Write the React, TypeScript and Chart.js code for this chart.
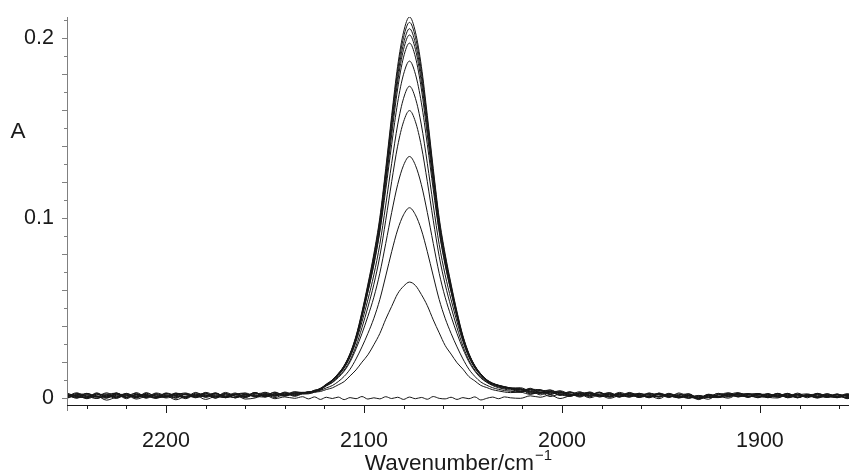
import React, { useEffect, useRef } from 'react';
import { Chart, registerables } from 'chart.js';

Chart.register(...registerables);

// Wavenumber grid (cm^-1), shared by all spectra
const WAVENUMBERS = [
  2250, 2245, 2240, 2235, 2230, 2225, 2220, 2215, 2210, 2205, 2200, 2195, 2190, 2185, 2180, 2175, 2170, 2165, 2160, 2155, 2150, 2145, 2140, 2135,
  2131, 2128, 2125, 2122, 2119, 2116, 2113, 2110, 2107, 2104, 2101, 2098, 2095, 2092, 2089, 2086, 2083, 2080, 2077, 2074, 2071, 2068, 2065, 2062, 2059, 2056, 2053, 2050, 2047, 2044, 2041, 2038, 2035, 2032, 2029, 2026,
  2021, 2016, 2011, 2006, 2001, 1996, 1991, 1986, 1981, 1976, 1971, 1966, 1961, 1956, 1951, 1946, 1941, 1936, 1931, 1926, 1921, 1916, 1911, 1906, 1901, 1896, 1891, 1886, 1881, 1876, 1871, 1866, 1861, 1856, 1851,
];

// Absorbance spectra (A)
const S1 = [
  .0019, .0003, .0025, .0009, -.0001, .0021, .0016, .0002, .0030, .0008, .0018, -.0002, .0024, .0015, .0007, .0029, .0003, .0022, .0014, .0029, .0008, .0023, .0015, .0033,
  .0031, .0030, .0042, .0050, .0075, .0100, .0134, .0180, .0248, .0345, .0479, .0633, .0801, .1001, .1275, .1570, .1843, .2033, .2117, .2033, .1843, .1570, .1275, .1001, .0801, .0633, .0479, .0345, .0248, .0180, .0134, .0100, .0081, .0071, .0063, .0056,
  .0053, .0034, .0047, .0021, .0032, .0009, .0027, .0030, .0011, .0020, .0005, .0031, .0012, .0022, .0005, .0022, .0012, -.0002, .0014, .0003, .0018, .0028, .0010, .0018, .0001, .0021, .0010, .0024, .0005, .0017, .0002, .0021, .0011, .0018, .0006,
];
const S2 = [
  .0005, .0025, .0011, -.0003, .0019, .0027, .0004, .0018, .0002, .0024, .0010, .0022, 0, .0027, .0017, .0005, .0031, .0010, .0004, .0021, .0028, .0011, .0027, .0021,
  .0027, .0035, .0037, .0051, .0072, .0101, .0131, .0178, .0244, .0340, .0473, .0624, .0790, .0987, .1257, .1548, .1817, .2004, .2087, .2004, .1817, .1548, .1257, .0987, .0790, .0624, .0473, .0340, .0244, .0178, .0132, .0097, .0080, .0070, .0062, .0056,
  .0035, .0054, .0031, .0037, .0016, .0031, .0023, .0014, .0031, .0004, .0021, .0015, .0026, .0008, .0021, .0002, .0028, .0006, -.0002, .0017, .0004, .0018, .0030, .0010, .0019, .0005, .0022, .0012, .0019, .0001, .0024, .0009, .0005, .0024, .0010,
];
const S3 = [
  .0027, .0009, .0001, .0021, .0015, -.0003, .0024, .0008, .0020, .0004, .0028, .0012, .0006, .0031, .0003, .0019, .0011, .0028, .0002, .0023, .0012, .0031, .0011, .0027,
  .0030, .0031, .0040, .0047, .0074, .0097, .0131, .0175, .0241, .0334, .0465, .0614, .0777, .0971, .1236, .1522, .1787, .1970, .2052, .1970, .1787, .1522, .1236, .0971, .0777, .0614, .0465, .0334, .0241, .0175, .0130, .0099, .0079, .0069, .0061, .0055,
  .0049, .0028, .0029, .0045, .0026, .0033, .0009, .0024, .0015, .0030, .0009, .0023, .0002, .0026, .0017, .0008, .0022, 0, .0008, .0007, .0026, .0008, .0024, .0004, .0025, .0011, .0016, .0006, .0027, .0007, .0018, .0003, .0021, .0008, .0018,
];
const S4 = [
  .0011, .0021, -.0001, .0025, .0007, .0017, .0002, .0030, .0006, .0016, .0004, .0026, .0020, .0001, .0023, .0011, .0025, 0, .0020, .0009, .0032, .0017, .0029, .0013,
  .0026, .0034, .0036, .0050, .0070, .0097, .0127, .0172, .0237, .0329, .0457, .0604, .0764, .0954, .1215, .1496, .1756, .1937, .2017, .1937, .1756, .1496, .1215, .0954, .0764, .0604, .0457, .0329, .0237, .0172, .0129, .0095, .0078, .0068, .0060, .0054,
  .0039, .0048, .0045, .0019, .0034, .0019, .0035, .0010, .0021, .0024, .0005, .0025, .0012, .0008, .0027, .0012, .0004, .0016, 0, .0021, .0008, .0006, .0022, .0024, .0003, .0021, .0012, .0026, .0003, .0015, .0022, .0007, .0017, 0, .0020,
];
const S5 = [
  .0023, -.0001, .0017, .0007, .0029, .0005, .0012, .0026, -.0002, .0022, .0008, .0018, .0028, .0005, .0011, .0027, .0007, .0018, .0026, .0005, .0024, .0015, .0011, .0029,
  .0030, .0030, .0040, .0045, .0073, .0092, .0127, .0169, .0232, .0322, .0447, .0590, .0747, .0933, .1188, .1462, .1717, .1894, .1972, .1894, .1717, .1462, .1188, .0933, .0747, .0590, .0447, .0322, .0232, .0169, .0125, .0096, .0077, .0067, .0059, .0053,
  .0057, .0036, .0025, .0033, .0038, .0015, .0025, .0006, .0029, .0012, .0025, .0005, .0022, .0020, .0005, .0026, .0008, .0012, -.0004, .0019, .0010, .0022, .0006, .0024, .0013, .0007, .0026, .0008, .0017, .0023, .0006, .0015, .0001, .0018, .0008,
];
const S6 = [
  .0001, .0017, .0023, .0005, .0011, .0027, .0002, .0020, .0014, 0, .0026, .0008, .0018, .0005, .0031, .0013, .0003, .0024, .0010, .0027, .0014, .0033, .0013, .0025,
  .0031, .0032, .0043, .0053, .0078, .0099, .0136, .0179, .0245, .0338, .0457, .0591, .0739, .0922, .1158, .1409, .1640, .1799, .1872, .1799, .1640, .1409, .1158, .0922, .0739, .0591, .0457, .0338, .0245, .0179, .0134, .0102, .0083, .0070, .0060, .0055,
  .0043, .0050, .0027, .0035, .0014, .0035, .0015, .0028, .0015, .0008, .0031, .0015, .0008, .0028, .0009, .0018, .0002, .0020, .0002, .0015, .0006, .0028, .0014, .0006, .0021, .0013, .0024, .0002, .0017, .0009, .0022, .0003, .0019, .0014, .0004,
];
const S7 = [
  .0017, .0007, .0001, .0029, .0003, .0015, .0022, 0, .0026, .0010, .0006, .0028, .0002, .0021, .0013, .0025, .0001, .0020, .0028, .0011, .0020, .0009, .0033, .0019,
  .0026, .0034, .0037, .0054, .0071, .0096, .0125, .0167, .0227, .0313, .0423, .0547, .0685, .0853, .1072, .1304, .1517, .1665, .1732, .1665, .1517, .1304, .1072, .0853, .0685, .0547, .0423, .0313, .0227, .0167, .0127, .0094, .0077, .0065, .0057, .0052,
  .0051, .0032, .0039, .0043, .0022, .0013, .0029, .0018, .0033, .0006, .0019, .0023, .0006, .0012, .0025, .0006, .0018, .0022, -.0006, .0011, .0008, .0024, .0006, .0020, .0025, .0009, .0010, .0022, .0001, .0019, .0012, .0023, .0005, .0016, .0002,
];
const S8 = [
  .0007, .0029, .0005, .0015, .0023, .0001, .0018, .0010, .0004, .0028, .0012, .0002, .0022, .0009, .0027, -.0001, .0021, .0018, .0008, .0031, .0006, .0025, .0019, .0035,
  .0028, .0029, .0037, .0046, .0068, .0087, .0118, .0155, .0210, .0289, .0391, .0505, .0632, .0787, .0988, .1202, .1399, .1535, .1597, .1535, .1399, .1202, .0988, .0787, .0632, .0505, .0391, .0289, .0210, .0155, .0116, .0089, .0072, .0061, .0053, .0049,
  .0033, .0044, .0041, .0023, .0040, .0021, .0011, .0034, .0013, .0022, .0009, .0027, .0018, .0004, .0021, .0010, .0006, .0024, -.0002, .0005, .0024, .0014, .0026, .0004, .0019, .0021, .0004, .0016, .0021, .0007, .0026, .0009, .0003, .0020, .0014,
];
const S9 = [
  .0024, .0010, .0018, -.0002, .0016, .0006, .0026, .0004, .0014, 0, .0022, .0016, -.0004, .0021, .0007, .0025, .0009, .0003, .0019, .0012, .0023, .0002, .0021, .0015,
  .0027, .0029, .0038, .0050, .0068, .0085, .0113, .0149, .0201, .0273, .0358, .0454, .0560, .0693, .0859, .1031, .1185, .1293, .1342, .1293, .1185, .1031, .0859, .0693, .0560, .0454, .0358, .0273, .0201, .0149, .0111, .0087, .0069, .0057, .0049, .0044,
  .0048, .0023, .0031, .0034, .0019, .0009, .0029, .0012, .0021, .0028, .0007, .0013, .0020, .0004, .0027, .0006, .0014, 0, .0014, .0003, .0002, .0020, .0018, .0006, .0025, .0001, .0018, .0008, .0021, .0009, .0006, .0023, .0003, .0014, .0006,
];
const S10 = [
  -.0002, .0018, .0008, .0022, 0, .0028, .0006, .0012, .0020, .0002, .0008, .0024, .0006, .0011, .0027, .0005, .0017, .0001, .0021, .0010, .0005, .0022, .0015, .0027,
  .0024, .0025, .0032, .0042, .0056, .0069, .0091, .0120, .0160, .0217, .0284, .0359, .0443, .0547, .0678, .0813, .0934, .1018, .1057, .1018, .0934, .0813, .0678, .0547, .0443, .0359, .0284, .0217, .0160, .0120, .0089, .0071, .0057, .0048, .0041, .0037,
  .0034, .0045, .0017, .0032, .0031, .0015, .0015, .0028, .0005, .0022, .0017, .0005, .0026, .0008, .0009, .0022, 0, .0012, .0008, -.0007, .0020, .0010, .0026, .0012, .0005, .0025, .0006, .0016, .0001, .0019, .0008, .0005, .0023, 0, .0016,
];
const S11 = [
  .0014, 0, .0026, .0006, .0008, .0022, -.0004, .0020, .0010, .0018, 0, .0014, .0022, .0005, .0017, -.0001, .0025, .0009, .0007, .0030, .0007, .0016, .0027, .0009,
  .0022, .0023, .0032, .0036, .0047, .0056, .0073, .0091, .0123, .0156, .0199, .0240, .0296, .0358, .0438, .0509, .0579, .0621, .0644, .0625, .0575, .0513, .0434, .0362, .0292, .0244, .0196, .0160, .0119, .0095, .0070, .0058, .0046, .0039, .0033, .0030,
  .0032, .0020, .0033, .0008, .0022, .0024, .0005, .0024, .0008, .0011, .0026, .0008, .0017, .0001, .0020, .0013, .0001, .0013, -.0003, .0018, .0003, .0017, .0009, .0023, .0008, .0004, .0025, .0001, .0012, .0016, -.0001, .0018, .0008, .0003, .0019,
];
const S12 = [
  0, .0014, -.0004, .0010, -.0012, .0006, .0016, -.0006, .0008, -.0002, .0012, -.0010, .0010, .0014, -.0008, .0008, .0002, .0018, -.0006, 0, .0016, -.0004, .0006, -.0002,
  .0007, -.0005, .0006, -.0008, .0004, -.0003, .0005, -.0009, .0002, -.0004, .0008, -.0006, .0001, -.0005, .0007, -.0003, .0004, -.0008, .0005, -.0004, .0003, -.0007, .0008, -.0002, -.0005, .0004, -.0008, .0002, -.0004, .0006, -.0011, -.0002, .0005, -.0004, .0006, .0001,
  -.0002, .0012, .0004, .0017, -.0003, .0012, .0020, .0001, .0015, -.0002, .0014, .0018, .0004, .0012, -.0004, .0020, .0005, .0012, -.0009, .0013, .0011, -.0001, .0019, .0007, .0018, .0004, 0, .0022, .0005, .0015, .0002, .0013, .0019, -.0004, .0012,
];

const SPECTRA = [S12, S11, S10, S9, S8, S7, S6, S5, S4, S3, S2, S1];

const X_TICK_LABELS = [2200, 2100, 2000, 1900];
const Y_TICK_LABELS = [0, 0.1, 0.2];
const X_TITLE = 'Wavenumber/cm';
const X_TITLE_SUP = '\u22121';
const Y_TITLE = 'A';

const X_MIN = 1855;
const X_MAX = 2250;
const Y_MIN = -0.0039;
const Y_MAX = 0.2117;

const FONT = '"Liberation Sans", Arial, Helvetica, sans-serif';
const TEXT_COLOR = '#1a1a1a';
const TICK_SIZE = 21.5;
const TITLE_SIZE = 22.5;

const axesPlugin = {
  id: 'axesDeco',
  afterDraw(chart: any) {
    const { ctx, chartArea: a, scales } = chart;
    const xs = scales.x;
    const ys = scales.y;
    ctx.save();
    ctx.lineWidth = 1;

    // y axis line and ticks
    ctx.strokeStyle = '#808080';
    ctx.beginPath();
    ctx.moveTo(a.left + 0.5, a.top);
    ctx.lineTo(a.left + 0.5, a.bottom + 6);
    ctx.stroke();
    for (let i = 0; i <= 21; i++) {
      const py = Math.round(ys.getPixelForValue(i / 100)) + 0.5;
      const len = i % 2 === 0 ? 5 : 3;
      ctx.beginPath();
      ctx.moveTo(a.left - len, py);
      ctx.lineTo(a.left, py);
      ctx.stroke();
    }

    // x axis line and ticks
    ctx.strokeStyle = '#1a1a1a';
    ctx.beginPath();
    ctx.moveTo(a.left, a.bottom + 0.5);
    ctx.lineTo(a.right, a.bottom + 0.5);
    ctx.stroke();
    for (let v = 1860; v <= 2240; v += 20) {
      const px = Math.round(xs.getPixelForValue(v)) + 0.5;
      const len = v % 100 === 0 ? 8 : 4;
      ctx.beginPath();
      ctx.moveTo(px, a.bottom);
      ctx.lineTo(px, a.bottom + len);
      ctx.stroke();
    }

    // titles
    ctx.fillStyle = TEXT_COLOR;
    ctx.textBaseline = 'alphabetic';
    ctx.font = `${TITLE_SIZE}px ${FONT}`;
    ctx.textAlign = 'center';
    ctx.fillText(Y_TITLE, 18, 138);

    ctx.textAlign = 'left';
    const w1 = ctx.measureText(X_TITLE).width;
    ctx.font = `15px ${FONT}`;
    const w2 = ctx.measureText(X_TITLE_SUP).width;
    const cx = (a.left + a.right) / 2;
    const x0 = cx - (w1 + w2) / 2;
    ctx.font = `${TITLE_SIZE}px ${FONT}`;
    ctx.fillText(X_TITLE, x0, 470);
    ctx.font = `15px ${FONT}`;
    ctx.fillText(X_TITLE_SUP, x0 + w1 + 1, 460);
    ctx.restore();
  },
};

export default function App() {
  const ref = useRef<HTMLCanvasElement | null>(null);

  useEffect(() => {
    if (!ref.current) return;
    const datasets = SPECTRA.map((s, k) => ({
      label: `spectrum ${k + 1}`,
      data: WAVENUMBERS.map((w, i) => ({ x: w, y: s[i] })),
      borderColor: '#161616',
      borderWidth: 1,
      pointRadius: 0,
      fill: false,
      cubicInterpolationMode: 'monotone' as const,
    }));
    const chart = new Chart(ref.current, {
      type: 'line',
      data: { datasets },
      options: {
        animation: false,
        responsive: false,
        devicePixelRatio: 1,
        layout: { padding: { top: 17, left: 0, right: 0, bottom: 0 } },
        plugins: { legend: { display: false }, tooltip: { enabled: false } },
        scales: {
          x: {
            type: 'linear',
            reverse: true,
            min: X_MIN,
            max: X_MAX,
            afterBuildTicks: (s: any) => {
              s.ticks = X_TICK_LABELS.map((v) => ({ value: v }));
            },
            afterFit: (s: any) => {
              s.height = 68;
              s.paddingLeft = 0;
              s.paddingRight = 0;
            },
            grid: { display: false, drawTicks: false },
            border: { display: false },
            ticks: {
              maxRotation: 0,
              autoSkip: false,
              padding: 23,
              color: TEXT_COLOR,
              font: { family: FONT, size: TICK_SIZE },
              callback: (v: any) => String(v),
            },
          },
          y: {
            type: 'linear',
            min: Y_MIN,
            max: Y_MAX,
            afterBuildTicks: (s: any) => {
              s.ticks = Y_TICK_LABELS.map((v) => ({ value: v }));
            },
            afterFit: (s: any) => {
              s.width = 67;
              s.paddingTop = 0;
              s.paddingBottom = 0;
            },
            grid: { display: false, drawTicks: false },
            border: { display: false },
            ticks: {
              autoSkip: false,
              padding: 13,
              color: TEXT_COLOR,
              font: { family: FONT, size: TICK_SIZE },
              callback: (v: any) => String(v),
            },
          },
        },
      },
      plugins: [axesPlugin],
    });
    return () => chart.destroy();
  }, []);

  return (
    <div style={{ position: 'absolute', left: 0, top: 0, width: 849, height: 473, background: '#fff' }}>
      <canvas ref={ref} width={849} height={473} style={{ display: 'block' }} />
    </div>
  );
}
